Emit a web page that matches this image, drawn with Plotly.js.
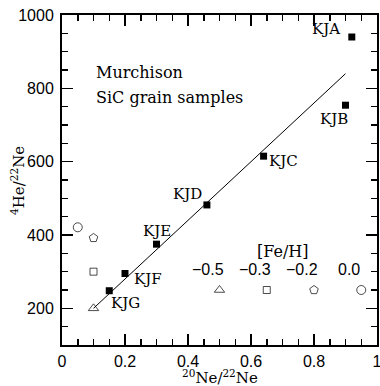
<!DOCTYPE html>
<html>
<head>
<meta charset="utf-8">
<script src="https://cdn.plot.ly/plotly-3.0.1.min.js"></script>
<style>html,body{margin:0;padding:0;background:#fff;}#chart{width:380px;height:386px;}</style>
</head>
<body>
<div id="chart"></div>
<script>
// Grain samples (filled squares)
const grainNames = ['KJA','KJB','KJC','KJD','KJE','KJF','KJG'];
const grainNe = [0.92, 0.90, 0.64, 0.46, 0.30, 0.20, 0.15];
const grainHe = [940, 754, 615, 482, 375, 295, 248];

// Fit line
const fitNe = [0.1, 0.9];
const fitHe = [200, 840];

// Model points (open symbols) by [Fe/H]
const fehLabels = ['\u22120.5', '\u22120.3', '\u22120.2', '0.0'];
const modelNe = [0.10, 0.10, 0.10, 0.05];
const modelHe = [200, 300, 392, 421];
const keyNe = [0.50, 0.65, 0.80, 0.95];
const keyHe = [250, 250, 250, 250];

// tick labels
const xTicks = [0, 0.2, 0.4, 0.6, 0.8, 1];
const xTickText = ['0', '0.2', '0.4', '0.6', '0.8', '1'];
const yTicks = [200, 400, 600, 800, 1000];

// styles
const symbols = ['triangle-up-open', 'square-open', 'pentagon-open', 'circle-open'];
const symSizes = [9, 7, 9, 9];
const labelShift = [[-26, 8], [-12, -14], [20, -5], [-19, 11], [0, 13], [23, -5], [16, -12]];

const serif = 'DejaVu Serif';
const sans = 'Liberation Sans';

const traces = [
  {x: fitNe, y: fitHe, mode: 'lines', line: {color: '#000', width: 1}, hoverinfo: 'skip'},
  {x: grainNe, y: grainHe, mode: 'markers', marker: {symbol: 'square', size: 7, color: '#000'}},
  {x: modelNe, y: modelHe, mode: 'markers',
   marker: {symbol: symbols, size: symSizes, color: '#000', line: {width: 1, color: '#000'}}},
  {x: keyNe, y: keyHe, mode: 'markers',
   marker: {symbol: symbols, size: symSizes, color: '#000', line: {width: 1, color: '#000'}}}
];

const annotations = [];
grainNames.forEach((n, i) => {
  annotations.push({x: grainNe[i], y: grainHe[i], text: n, showarrow: false,
    xshift: labelShift[i][0], yshift: labelShift[i][1],
    font: {family: serif, size: 15, color: '#000'}});
});
fehLabels.forEach((t, i) => {
  annotations.push({x: keyNe[i], y: keyHe[i], text: t, showarrow: false,
    xshift: -12, yshift: 21, font: {family: sans, size: 16, color: '#000'}});
});
annotations.push({x: 0.7, y: 354, text: '[Fe/H]', showarrow: false,
  font: {family: serif, size: 16, color: '#000'}});
annotations.push({xref: 'paper', yref: 'paper', x: 0.1, y: 0.862, xanchor: 'left',
  text: 'Murchison', showarrow: false, font: {family: serif, size: 16, color: '#000'}});
annotations.push({xref: 'paper', yref: 'paper', x: 0.1, y: 0.785, xanchor: 'left',
  text: 'SiC grain samples', showarrow: false, font: {family: serif, size: 16, color: '#000'}});
annotations.push({xref: 'paper', yref: 'paper', x: 0.5, y: -0.098, xanchor: 'center', yanchor: 'middle',
  text: '<sup>20</sup>Ne/<sup>22</sup>Ne', showarrow: false, font: {family: serif, size: 15, color: '#000'}});
annotations.push({xref: 'paper', yref: 'paper', x: -0.14, y: 0.5, xanchor: 'center', yanchor: 'middle',
  textangle: -90,
  text: '<sup>4</sup>He/<sup>22</sup>Ne', showarrow: false, font: {family: serif, size: 15, color: '#000'}});

const axisCommon = {
  showgrid: false, zeroline: false, showline: true, linecolor: '#000', linewidth: 2,
  mirror: 'allticks', ticks: 'inside', ticklen: 11, tickwidth: 1.5, tickcolor: '#000',
  tickfont: {family: sans, size: 16, color: '#000'}
};

const layout = {
  width: 380, height: 386,
  margin: {l: 62, r: 3, t: 15, b: 41},
  paper_bgcolor: '#fff', plot_bgcolor: '#fff',
  showlegend: false,
  xaxis: Object.assign({}, axisCommon, {range: [0, 1], tickvals: xTicks, ticktext: xTickText,
    ticklabelstandoff: 1, ticklabeloverflow: 'allow',
    minor: {dtick: 0.05, tick0: 0, ticks: 'inside', ticklen: 6, tickwidth: 1.5, tickcolor: '#000'}}),
  yaxis: Object.assign({}, axisCommon, {range: [100, 1000], tickvals: yTicks,
    ticklabelstandoff: 3,
    minor: {dtick: 50, tick0: 0, ticks: 'inside', ticklen: 6, tickwidth: 1.5, tickcolor: '#000'}}),
  annotations: annotations
};

Plotly.newPlot('chart', traces, layout, {staticPlot: true, displayModeBar: false});
</script>
</body>
</html>
